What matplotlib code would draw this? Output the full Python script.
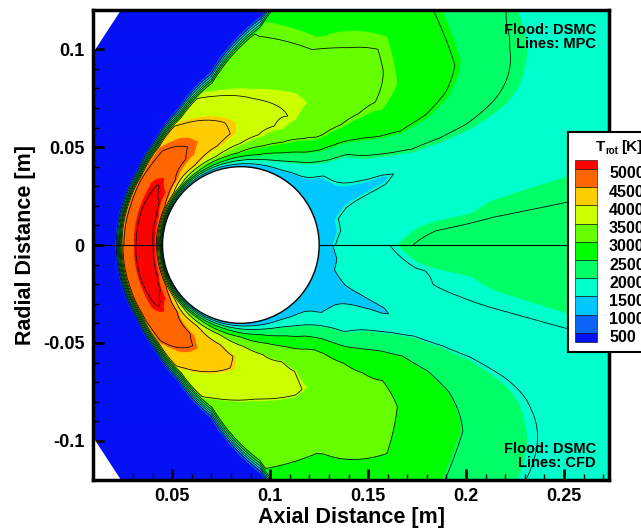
import numpy as np
import matplotlib.pyplot as plt
from matplotlib.colors import ListedColormap, BoundaryNorm
from matplotlib.patches import Circle, Polygon, Rectangle

plt.rcParams['font.family'] = ['Liberation Sans', 'DejaVu Sans']
plt.rcParams['font.weight'] = 'bold'

# geometry
body_center = (0.085, 0.0)
body_radius = 0.04
inflow_cut_x = [0.0095, 0.0095, 0.024]
inflow_cut_y = [0.098, 0.12, 0.12]
x_range = (0.0095, 0.2730)
y_range = (-0.12, 0.12)
T_inf = 300.0

# flood levels / colours (Tecplot style)
levels = [0, 500, 1000, 1500, 2000, 2500, 3000, 3500, 4000, 4500, 5000, 20000]
band_colors = ['#0511f5', '#0a64f5', '#00c8ff', '#00ffcc', '#00ff66', '#00ff00',
               '#66ff00', '#ccff00', '#ffcc00', '#ff6600', '#ff0000']
legend_labels = ['500', '1000', '1500', '2000', '2500', '3000', '3500',
                 '4000', '4500', '5000']

# stations: angle from the upstream axis (deg), shock radius from body centre
phi_deg = [0, 20, 35, 50, 65, 80, 95, 110, 125, 140, 155, 165, 172, 180]
shock_r = [0.0642, 0.0646, 0.0656, 0.0695, 0.077, 0.090, 0.118, 0.175,
           0.5, 0.5, 0.5, 0.5, 0.5, 0.5]
shock_w = [0.0040, 0.0040, 0.0042, 0.0048, 0.0056, 0.0066, 0.0078, 0.0090,
           0.010, 0.010, 0.010, 0.010, 0.010, 0.010]
radii = [0.040, 0.0415, 0.0435, 0.047, 0.052, 0.057, 0.063, 0.07, 0.08,
         0.09, 0.10, 0.115, 0.13, 0.15, 0.17, 0.19, 0.21]

# DSMC rotational temperature along each station [K]
T_dsmc = [
    [1000, 3000, 5000, 5300, 5250, 4800, 4400, 4300, 4300, 4300, 4300, 4300, 4300, 4300, 4300, 4300, 4300],
    [1000, 2900, 4900, 5250, 5250, 4850, 4350, 4300, 4300, 4300, 4300, 4300, 4300, 4300, 4300, 4300, 4300],
    [1000, 2500, 4300, 5000, 5150, 4950, 4450, 4300, 4300, 4300, 4300, 4300, 4300, 4300, 4300, 4300, 4300],
    [1000, 2050, 3400, 4400, 4780, 4850, 4600, 4250, 4050, 4050, 4050, 4050, 4050, 4050, 4050, 4050, 4050],
    [1000, 1850, 2900, 3950, 4450, 4550, 4450, 4000, 3550, 3450, 3450, 3450, 3450, 3450, 3450, 3450, 3450],
    [1000, 1700, 2450, 3400, 4000, 4250, 4150, 3850, 3500, 3250, 3200, 3200, 3200, 3200, 3200, 3200, 3200],
    [1000, 1500, 2000, 2800, 3400, 3750, 3850, 3700, 3500, 3300, 3150, 3000, 2980, 2980, 2980, 2980, 2980],
    [1000, 1300, 1700, 2200, 2800, 3200, 3500, 3600, 3550, 3350, 3150, 2980, 2900, 2850, 2850, 2850, 2850],
    [1100, 1200, 1400, 1700, 2100, 2500, 2900, 3200, 3400, 3400, 3300, 3150, 3000, 2700, 2450, 2400, 2400],
    [1100, 1150, 1250, 1350, 1450, 1600, 1800, 2000, 2400, 2700, 2900, 2900, 2750, 2450, 2150, 1950, 1900],
    [1200, 1200, 1250, 1300, 1350, 1400, 1400, 1420, 1450, 1600, 1750, 1850, 1900, 1900, 1880, 1850, 1850],
    [1300, 1350, 1400, 1450, 1550, 1650, 1750, 1800, 1850, 1900, 1950, 1950, 1950, 1950, 1950, 1950, 1950],
    [1300, 1350, 1400, 1450, 1550, 1650, 1750, 1850, 1900, 1950, 1970, 1990, 2020, 2040, 2060, 2060, 2060],
    [1200, 1300, 1400, 1500, 1650, 1750, 1850, 1900, 2000, 2100, 2200, 2250, 2300, 2350, 2400, 2400, 2400],
]

# contour-line levels of the two comparison solutions
mpc_line_levels = [1000, 1540, 2080, 2560, 3080, 3600, 4100, 4620, 5120]
cfd_line_levels = [1000, 1500, 1960, 2480, 3000, 3520, 4050, 4560, 5100]


def dsmc_field(x, y):
    dx = x - body_center[0]
    r = np.hypot(dx, y)
    phi = np.degrees(np.arctan2(np.abs(y), -dx))
    stations = np.asarray(phi_deg, dtype=float)
    prof = np.array([np.interp(r, radii, row) for row in T_dsmc])
    k = np.clip(np.searchsorted(stations, phi, side='right') - 1, 0, len(stations) - 2)
    t = (phi - stations[k]) / (stations[k + 1] - stations[k])
    T0 = np.take_along_axis(prof, k[None], 0)[0]
    T1 = np.take_along_axis(prof, (k + 1)[None], 0)[0]
    T = T0 * (1 - t) + T1 * t
    rs = np.interp(phi, stations, shock_r)
    ws = np.interp(phi, stations, shock_w)
    frac = np.clip((rs - r) / ws, 0, 1)
    T = T_inf + (T - T_inf) * frac
    return np.where(r < body_radius, np.nan, T)


xs = np.linspace(*x_range, 1032)
ys = np.linspace(*y_range, 941)
XX, YY = np.meshgrid(xs, ys)
T = dsmc_field(XX, YY)

fig = plt.figure(figsize=(6.41, 5.31), dpi=100)
ax = fig.add_axes([93 / 641, 51 / 531, 516 / 641, 470 / 531])

cmap = ListedColormap(band_colors)
cmap.set_bad('white')
norm = BoundaryNorm(levels, cmap.N)
ax.imshow(T, extent=[*x_range, *y_range], origin='lower', cmap=cmap, norm=norm,
          interpolation='antialiased', interpolation_stage='rgba', aspect='auto')

upper = ys >= 0
lower = ys <= 0
ax.contour(XX[upper], YY[upper], T[upper], levels=mpc_line_levels, colors='k', linewidths=0.55)
ax.contour(XX[lower], YY[lower], T[lower], levels=cfd_line_levels, colors='k', linewidths=0.55)

for sign in (1, -1):
    ax.add_patch(Polygon(np.c_[inflow_cut_x, sign * np.array(inflow_cut_y)],
                         closed=True, facecolor='white', edgecolor='none', zorder=3))
ax.axhline(0, color='k', lw=0.8, zorder=4)
ax.add_patch(Circle(body_center, body_radius, facecolor='white', edgecolor='k',
                    lw=1.0, zorder=5))

ax.set_xlim(*x_range)
ax.set_ylim(*y_range)
ax.set_xticks([0.05, 0.1, 0.15, 0.2, 0.25])
ax.set_xticklabels(['0.05', '0.1', '0.15', '0.2', '0.25'])
ax.set_yticks([-0.1, -0.05, 0, 0.05, 0.1])
ax.set_yticklabels(['-0.1', '-0.05', '0', '0.05', '0.1'])
ax.set_xticks(np.arange(0.01, 0.275, 0.01), minor=True)
ax.set_yticks(np.arange(-0.11, 0.115, 0.01), minor=True)
ax.tick_params(which='major', direction='in', length=8, width=2, labelsize=13, pad=6)
ax.tick_params(which='minor', direction='in', length=4, width=1)
ax.tick_params(top=False, right=False)
for s in ax.spines.values():
    s.set_linewidth(2.5)
    s.set_zorder(10)
ax.set_xlabel('Axial Distance [m]', fontsize=15.5, fontweight='bold', labelpad=1)
ax.set_ylabel('Radial Distance [m]', fontsize=15.5, fontweight='bold', labelpad=5)

ax.text(0.975, 0.972, 'Flood: DSMC\nLines: MPC', transform=ax.transAxes,
        ha='right', va='top', fontsize=10.5, fontweight='bold', linespacing=1.0, zorder=11)
ax.text(0.975, 0.022, 'Flood: DSMC\nLines: CFD', transform=ax.transAxes,
        ha='right', va='bottom', fontsize=10.5, fontweight='bold', linespacing=1.0, zorder=11)

# legend box (pixel coordinates of the figure)
lg = fig.add_axes([568 / 641, (531 - 352) / 531, 100 / 641, 220 / 531])
lg.set_xlim(0, 100)
lg.set_ylim(352, 132)
lg.set_xticks([])
lg.set_yticks([])
for s in lg.spines.values():
    s.set_linewidth(1.5)
lg.text(28, 147, 'T', fontsize=11, fontweight='bold', va='center')
lg.text(37.5, 151, 'rot', fontsize=7, fontweight='bold', va='center')
lg.text(53, 147, '[K]', fontsize=11, fontweight='bold', va='center')
top = 160.0
step = 18.2
edges = [top] + [top + 9 + step * i for i in range(10)] + [top + 9 + step * 9 + 9]
for i, c in enumerate(reversed(band_colors)):
    lg.add_patch(Rectangle((7, edges[i]), 22, edges[i + 1] - edges[i],
                           facecolor=c, edgecolor='k', lw=0.4))
for i, lab in enumerate(reversed(legend_labels)):
    lg.text(41, edges[i + 1] + 5, lab, fontsize=11.5, fontweight='bold', va='center')

fig.savefig('out.png', dpi=100)
